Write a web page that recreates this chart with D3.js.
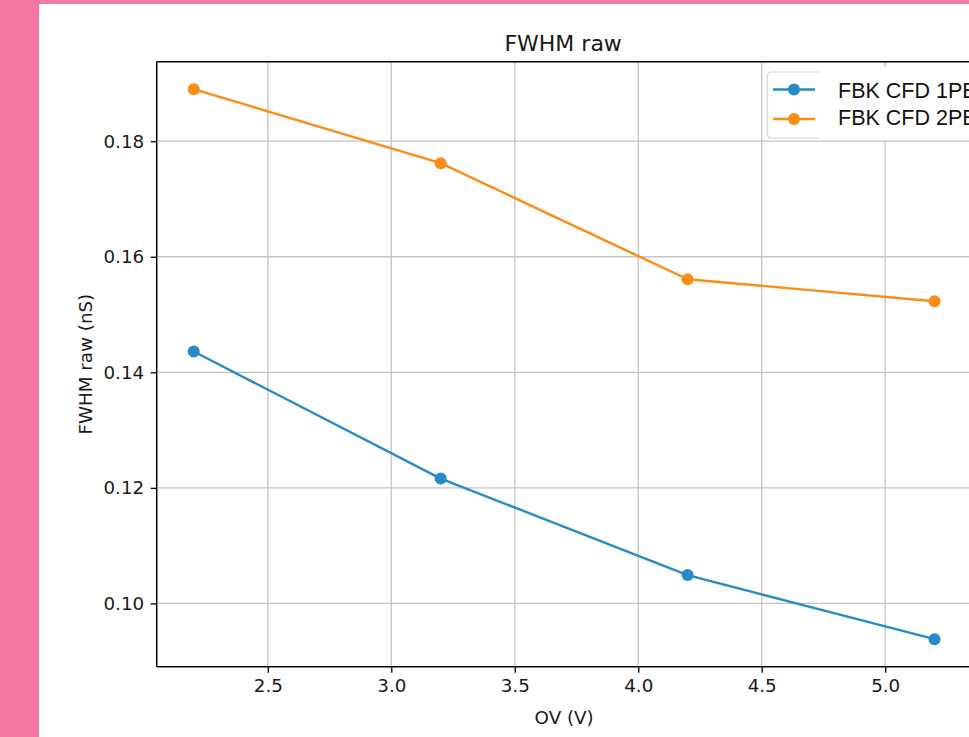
<!DOCTYPE html>
<html>
<head>
<meta charset="utf-8">
<script src="https://cdn.jsdelivr.net/npm/d3@7"></script>
<style>
  html, body { margin: 0; padding: 0; background: #f278a0; overflow: hidden; }
  svg { display: block; }
</style>
</head>
<body>
<svg id="chart" width="969" height="737"></svg>
<script>
// ---- data ----
const ov = [2.2, 3.2, 4.2, 5.2];
const fwhm1PE = [0.1436, 0.1216, 0.1049, 0.0938];
const fwhm2PE = [0.1890, 0.1762, 0.1561, 0.1523];
const seriesNames = ["FBK CFD 1PE", "FBK CFD 2PE"];
const xTicks = [2.5, 3.0, 3.5, 4.0, 4.5, 5.0];
const yTicks = [0.10, 0.12, 0.14, 0.16, 0.18];
const titleText = "FWHM raw";
const xLabel = "OV (V)";
const yLabel = "FWHM raw (nS)";

// ---- layout ----
const W = 969, H = 737;
const plot = { left: 156.7, right: 971.6, top: 61.7, bottom: 666.7 };
const colors = ["#268bc7", "#fd8c14"];

const svg = d3.select("#chart");
svg.append("rect").attr("width", W).attr("height", H).attr("fill", "#f278a0");
svg.append("rect").attr("x", 39).attr("y", 4).attr("width", W - 39).attr("height", H - 4).attr("fill", "#ffffff");

// domains with 5% margins (matplotlib style)
const xMin = d3.min(ov), xMax = d3.max(ov);
const xPad = (xMax - xMin) * 0.05;
const allY = fwhm1PE.concat(fwhm2PE);
const yMin = d3.min(allY), yMax = d3.max(allY);
const yPad = (yMax - yMin) * 0.05;

const x = d3.scaleLinear().domain([xMin - xPad, xMax + xPad]).range([plot.left, plot.right]);
const y = d3.scaleLinear().domain([yMin - yPad, yMax + yPad]).range([plot.bottom, plot.top]);

// grid
const grid = svg.append("g");
grid.selectAll("line.vx").data(xTicks).enter().append("line")
  .attr("x1", d => x(d)).attr("x2", d => x(d))
  .attr("y1", plot.top).attr("y2", plot.bottom)
  .attr("stroke", "#c4c4c4").attr("stroke-width", 1.3);
grid.selectAll("line.hy").data(yTicks).enter().append("line")
  .attr("x1", plot.left).attr("x2", plot.right)
  .attr("y1", d => y(d)).attr("y2", d => y(d))
  .attr("stroke", "#c4c4c4").attr("stroke-width", 1.3);

// series
const series = [fwhm1PE, fwhm2PE];
const line = d3.line().x(d => x(d[0])).y(d => y(d[1]));
series.forEach((vals, i) => {
  const pts = ov.map((v, j) => [v, vals[j]]);
  svg.append("path").datum(pts)
    .attr("d", line).attr("fill", "none")
    .attr("stroke", colors[i]).attr("stroke-width", 2.4)
    .attr("stroke-linejoin", "round");
  svg.append("g").selectAll("circle").data(pts).enter().append("circle")
    .attr("cx", d => x(d[0])).attr("cy", d => y(d[1])).attr("r", 6)
    .attr("fill", colors[i]);
});

// axes
const tickFont = "DejaVu Sans";
const xAxis = d3.axisBottom(x).tickValues(xTicks).tickFormat(d3.format(".1f")).tickSize(6).tickPadding(6.5);
const yAxis = d3.axisLeft(y).tickValues(yTicks).tickFormat(d3.format(".2f")).tickSize(6).tickPadding(6.5);

const gx = svg.append("g").attr("transform", `translate(0,${plot.bottom})`).call(xAxis);
const gy = svg.append("g").attr("transform", `translate(${plot.left},0)`).call(yAxis);
[gx, gy].forEach(g => {
  g.select(".domain").remove();
  g.selectAll(".tick line").attr("stroke", "#000").attr("stroke-width", 1.3);
  g.selectAll(".tick text").attr("fill", "#1a1a1a")
    .style("font-family", tickFont).style("font-size", "18.3px");
});

// spines
const spine = (x1, y1, x2, y2) => svg.append("line").attr("x1", x1).attr("y1", y1).attr("x2", x2).attr("y2", y2)
  .attr("stroke", "#000").attr("stroke-width", 1.5);
spine(plot.left, plot.top, plot.left, plot.bottom);
spine(plot.left, plot.bottom, plot.right, plot.bottom);
spine(plot.left, plot.top, plot.right, plot.top);
spine(plot.right, plot.top, plot.right, plot.bottom);

// title and labels
svg.append("text").attr("x", (plot.left + plot.right) / 2 - 1).attr("y", 50.5)
  .attr("text-anchor", "middle").attr("fill", "#1a1a1a")
  .style("font-family", tickFont).style("font-size", "22px").text(titleText);
svg.append("text").attr("x", (plot.left + plot.right) / 2).attr("y", 724)
  .attr("text-anchor", "middle").attr("fill", "#1a1a1a")
  .style("font-family", tickFont).style("font-size", "18.3px").text(xLabel);
svg.append("text").attr("transform", `translate(91.5,${(plot.top + plot.bottom) / 2}) rotate(-90)`)
  .attr("text-anchor", "middle").attr("fill", "#1a1a1a")
  .style("font-family", tickFont).style("font-size", "18.3px").text(yLabel);

// legend
const leg = svg.append("g");
leg.append("rect").attr("x", 818).attr("y", 67).attr("width", 200).attr("height", 73).attr("fill", "#fff");
leg.append("path")
  .attr("d", "M819,72 L771.5,72 Q767.5,72 767.5,76 L767.5,134 Q767.5,138 771.5,138 L819,138 Z")
  .attr("fill", "#fff");
leg.append("path")
  .attr("d", "M819,72 L771.5,72 Q767.5,72 767.5,76 L767.5,134 Q767.5,138 771.5,138 L819,138")
  .attr("fill", "none").attr("stroke", "#d6d6d6").attr("stroke-width", 1.2);
const rowY = [89.5, 119];
const textY = [97.5, 125];
seriesNames.forEach((name, i) => {
  leg.append("line").attr("x1", 773).attr("x2", 815).attr("y1", rowY[i]).attr("y2", rowY[i])
    .attr("stroke", colors[i]).attr("stroke-width", 2.4);
  leg.append("circle").attr("cx", 794).attr("cy", rowY[i]).attr("r", 6).attr("fill", colors[i]);
  leg.append("text").attr("x", 838).attr("y", textY[i]).attr("fill", "#111")
    .style("font-family", "Liberation Sans, Arial, sans-serif").style("font-size", "21.5px").text(name);
});
</script>
</body>
</html>
